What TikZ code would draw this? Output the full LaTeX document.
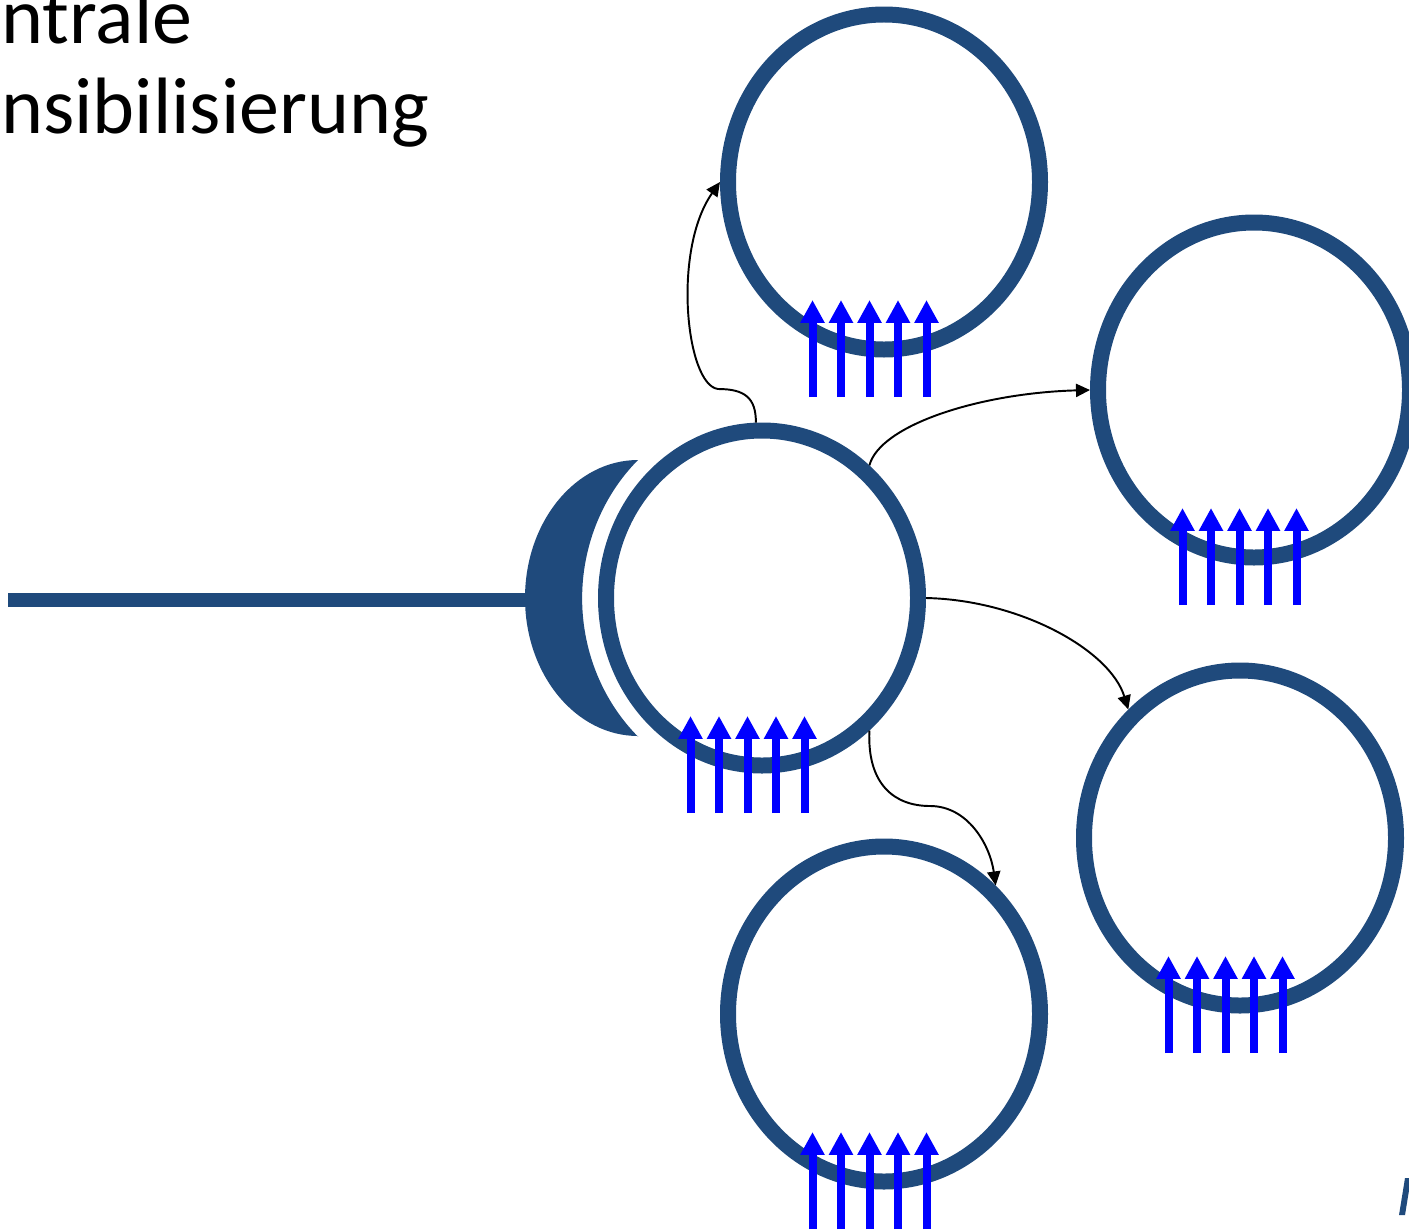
\documentclass[tikz,border=0pt]{standalone}
\usepackage{fontspec}
\setmainfont{Carlito}
\usetikzlibrary{arrows.meta, shapes.geometric, positioning}
\definecolor{zellblau}{RGB}{31,74,124}
\definecolor{rezeptorblau}{RGB}{0,0,255}
\tikzset{>={Triangle[length=8pt,width=7.5pt]}}
\tikzset{zelle/.style={draw=zellblau, line width=9.1pt, ellipse, minimum width=6.24cm, minimum height=6.7cm, inner sep=0pt},
	rezeptor/.style={rezeptorblau, line width=4.55pt, -{Triangle[length=13pt,width=13pt]}},
	verbindung/.style={black, line width=1.1pt, ->},
	titel/.style={anchor=base west, inner sep=0pt, font=\fontsize{45.5}{52}\selectfont}}

\begin{document}
\begin{tikzpicture}[x=0.2mm, y=-0.2mm]
			\useasboundingbox (0,0) rectangle (1409,1231);

			\node [titel] (titel1) at (1,43) {ntrale};
			\node [titel] (titel2) at (1,133) {nsibilisierung};

			% Axon mit Endkolben
			\draw [zellblau, line width=8.5pt] (8,600) -- (530,600);
			\fill [zellblau] (638,736) arc [start angle=90, end angle=270, x radius=113, y radius=138]
				arc [start angle=226.4, end angle=133.6, x radius=180, y radius=191] -- cycle;

			\node [zelle] (c0) at (762,598) {};
			\node [zelle] (c1) at (884,182) {};
			\node [zelle] (c2) at (1254,390) {};
			\node [zelle] (c3) at (1240,838) {};
			\node [zelle] (c4) at (884,1014) {};

			\foreach \c in {c0,c1,c2,c3,c4}
				\foreach \i in {0,...,4}
					\draw [rezeptor] ([shift={(-71.5+28.5*\i,215)}]\c.center) -- ++(0,-97);

			\draw [verbindung] (c0.92) .. controls (756,398) and (745,389) .. (718,389)
				.. controls (686,385) and (672,250) .. (c1.west);
			\draw [verbindung] (c0.51) .. controls (880,425) and (980,393) .. (c2.west);
			\draw [verbindung] (c0.east) .. controls (1020,600) and (1110,650) .. (c3.131);
			\draw [verbindung] (c0.-51) .. controls (867,785) and (895,806) .. (930,806)
				.. controls (968,806) and (990,845) .. (c4.49);

			%\draw [zellblau] (1400,1215) -- (1409,1178);
			\fill [zellblau] (1399,1215) -- (1405,1215) -- (1411,1178) -- (1405,1178) -- cycle;
\end{tikzpicture}
\end{document}
